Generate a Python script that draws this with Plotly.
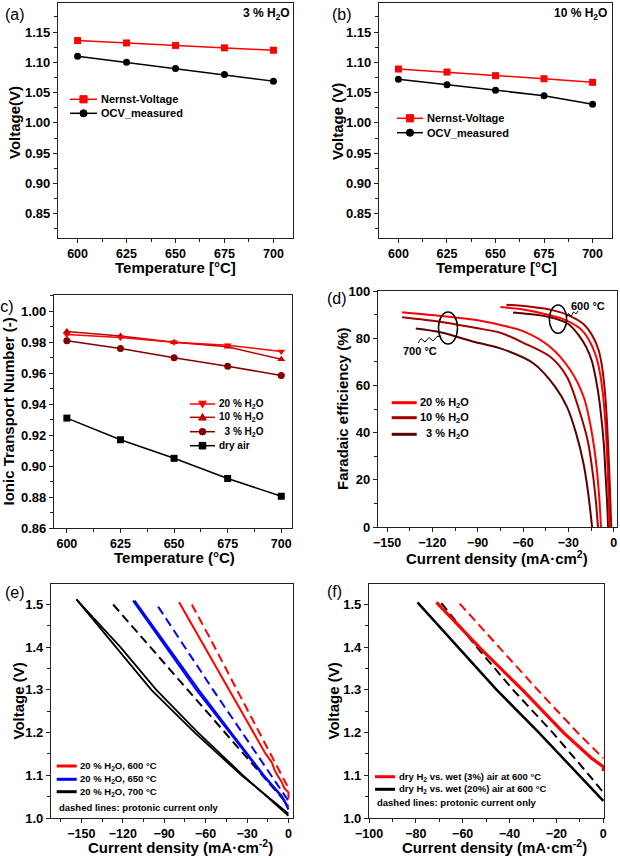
import plotly.graph_objects as go

W, H = 620, 858
FONT = "Liberation Sans, Arial, sans-serif"

# ---------------- data ----------------
temps = [600, 625, 650, 675, 700]
a_nernst = [1.136, 1.132, 1.128, 1.124, 1.120]
a_ocv = [1.110, 1.100, 1.090, 1.080, 1.069]
b_nernst = [1.089, 1.084, 1.078, 1.073, 1.067]
b_ocv = [1.072, 1.063, 1.054, 1.045, 1.031]

c_h2o20 = [0.985, 0.983, 0.980, 0.978, 0.974]
c_h2o10 = [0.987, 0.984, 0.980, 0.977, 0.969]
c_h2o3 = [0.981, 0.976, 0.970, 0.9645, 0.9585]
c_dry = [0.931, 0.917, 0.905, 0.892, 0.8805]

# (d) Faradaic efficiency vs current density
d700_20_i = [-140, -114, -92, -75, -60, -42, -28.7, -19.9, -16.6, -13, -11, -9.5, -8.4]
d700_20_fe = [91.0, 89.4, 87.8, 85.6, 83.0, 76.3, 66.5, 55.2, 47.0, 34.0, 23.5, 12.0, 0]
d700_10_i = [-140, -114, -92, -75, -58, -42, -31, -22.1, -17, -13.3, -11.5, -10.4]
d700_10_fe = [88.9, 86.9, 84.4, 82.3, 77.5, 72.1, 63.7, 48.0, 36.0, 20.0, 9.0, 0]
d700_3_i = [-131, -114, -92, -75, -53, -38.7, -31, -25, -20, -17, -14.3]
d700_3_fe = [84.1, 82.4, 78.4, 75.7, 69.3, 59.4, 51.0, 40.0, 27.0, 15.0, 0]
d600_20_i = [-75, -60, -42, -33, -22, -17, -12, -9, -6.6, -5, -4, -3.3, -2.7]
d600_20_fe = [93.2, 92.2, 89.7, 88.0, 84.0, 80.0, 73.0, 65.0, 53.0, 39.0, 25.0, 12.0, 0]
d600_10_i = [-71, -55, -40, -29.8, -20, -14.3, -10, -7.7, -5.5, -4.4, -3.0, -2.2, -1.6]
d600_10_fe = [94.2, 93.3, 91.8, 89.7, 86.0, 81.3, 75.0, 68.0, 55.0, 44.0, 25.0, 11.0, 0]
d600_3_i = [-66.6, -50, -38.6, -30, -23.2, -18, -14.3, -10.5, -8.8, -6.5, -5.5, -4.3, -3.7]
d600_3_fe = [90.9, 89.8, 88.3, 86.0, 81.3, 76.0, 70.0, 58.0, 50.0, 35.0, 23.5, 10.0, 0]

# (e) i-V curves, 20 % H2O
e600_i = [-79.2, -60.6, -43.0, -25.6, -16.5, -12, -10, -8, -5, -3, -1.5, 0, 0]
e600_v = [1.505, 1.40, 1.30, 1.20, 1.15, 1.13, 1.112, 1.10, 1.085, 1.07, 1.065, 1.06, 1.045]
e600p_i = [-70, -55, -37.3, -21, -5, 0]
e600p_v = [1.50, 1.41, 1.30, 1.20, 1.10, 1.07]
e650a_i = [-112.6, -89, -66.7, -42.5, -18.4, -5, 0]
e650a_v = [1.509, 1.40, 1.30, 1.20, 1.10, 1.05, 1.025]
e650b_i = [-111.5, -87.5, -65, -41.5, -17.8, -4.5, 0]
e650b_v = [1.509, 1.40, 1.30, 1.20, 1.10, 1.05, 1.02]
e650p_i = [-94.4, -75, -54.6, -33.5, -12.5, 0]
e650p_v = [1.495, 1.40, 1.30, 1.20, 1.10, 1.04]
e700a_i = [-153.6, -124.6, -99.3, -67.9, -34, 0]
e700a_v = [1.512, 1.40, 1.30, 1.20, 1.10, 1.01]
e700b_i = [-153.6, -121.7, -95.7, -65.5, -32.9, 0]
e700b_v = [1.512, 1.40, 1.30, 1.20, 1.10, 1.005]
e700p_i = [-127, -100, -73.5, -46.5, -19.5, 0]
e700p_v = [1.50, 1.40, 1.30, 1.20, 1.10, 1.03]

# (f) i-V curves at 600 °C
f3_i = [-71.2, -53, -34.5, -17, -5, 0, 0]
f3_v = [1.505, 1.40, 1.30, 1.20, 1.14, 1.12, 1.11]
f3p_i = [-61.3, -44.5, -28, -11, 0]
f3p_v = [1.502, 1.40, 1.30, 1.20, 1.14]
f20_i = [-79.3, -62, -45.5, -27.5, -10.5, -5, 0]
f20_v = [1.505, 1.40, 1.30, 1.20, 1.10, 1.07, 1.04]
f20p_i = [-69.1, -54, -38.5, -21.6, -6, 0]
f20p_v = [1.503, 1.40, 1.30, 1.20, 1.10, 1.06]

RED = "#ff0000"
C10 = "#c00000"
C3 = "#800000"
D10 = "#a00000"
D3 = "#5a0000"
BLUE = "#0000ff"

# ---------------- helpers ----------------
def px(x):
    return x / W

def py(y):
    return 1 - y / H

def axis(x0, x1, rng, dtick, tick0, fmt, minor, anchor, horiz=True):
    d = dict(
        domain=[px(x0), px(x1)] if horiz else [py(x1), py(x0)],
        range=rng, anchor=anchor, showline=True, mirror=True, automargin=False,
        linecolor="#222", linewidth=1.2, ticks="outside", ticklen=4,
        tickwidth=1.2, tickcolor="#222", tickmode="linear", dtick=dtick,
        tick0=tick0, showgrid=False, zeroline=False,
        tickfont=dict(family=FONT, size=12.5 if horiz else 13, color="black",
                      weight="bold"),
        minor=dict(ticks="outside", ticklen=2.5, dtick=minor, tickcolor="#222",
                   tickwidth=1, showgrid=False),
    )
    if fmt:
        d["tickformat"] = fmt
    return d

fig = go.Figure()

def add(x, y, ax, color, width=1.5, dash=None, marker=None, spline=False):
    line = dict(color=color, width=width)
    if dash:
        line["dash"] = dash
    if spline:
        line["shape"] = "spline"
        line["smoothing"] = 0.9
    kw = dict(x=x, y=y, xaxis="x" + ax, yaxis="y" + ax, line=line,
              showlegend=False, hoverinfo="skip")
    if marker:
        kw["mode"] = "lines+markers"
        kw["marker"] = dict(symbol=marker, size=7, color=color)
    else:
        kw["mode"] = "lines"
    fig.add_trace(go.Scatter(**kw))

# (a)
add(temps, a_nernst, "", RED, marker="square")
add(temps, a_ocv, "", "black", marker="circle")
# (b)
add(temps, b_nernst, "2", RED, marker="square")
add(temps, b_ocv, "2", "black", marker="circle")
# (c)
add(temps, c_dry, "3", "black", marker="square")
add(temps, c_h2o3, "3", C3, marker="circle")
add(temps, c_h2o10, "3", C10, marker="triangle-up")
add(temps, c_h2o20, "3", RED, marker="triangle-down")
# (d)
add(d700_3_i, d700_3_fe, "4", D3, 2, spline=True)
add(d700_10_i, d700_10_fe, "4", D10, 2, spline=True)
add(d700_20_i, d700_20_fe, "4", RED, 2, spline=True)
add(d600_3_i, d600_3_fe, "4", D3, 2, spline=True)
add(d600_20_i, d600_20_fe, "4", RED, 2, spline=True)
add(d600_10_i, d600_10_fe, "4", D10, 2, spline=True)
# (e)
DASH = "9px,5px"
add(e700p_i, e700p_v, "5", "black", 2, dash=DASH)
add(e700a_i, e700a_v, "5", "black", 1.8)
add(e700b_i, e700b_v, "5", "black", 1.8)
add(e650p_i, e650p_v, "5", BLUE, 2, dash=DASH)
add(e650a_i, e650a_v, "5", BLUE, 2)
add(e650b_i, e650b_v, "5", BLUE, 2)
add(e600p_i, e600p_v, "5", RED, 2, dash=DASH)
add(e600_i, e600_v, "5", RED, 2)
# (f)
add(f20p_i, f20p_v, "6", "black", 2, dash=DASH)
add(f20_i, f20_v, "6", "black", 2.5)
add(f3p_i, f3p_v, "6", RED, 2, dash=DASH)
add(f3_i, f3_v, "6", RED, 3.2)

layout = dict(
    width=W, height=H, autosize=False,
    margin=dict(l=0, r=0, t=0, b=0, pad=0, autoexpand=False),
    paper_bgcolor="white", plot_bgcolor="white",
    font=dict(family=FONT, color="black"),
    xaxis=axis(58, 293, [590, 710], 25, 600, None, 12.5, "y"),
    yaxis=axis(3, 238, [0.81, 1.198], 0.05, 0.85, ".2f", 0.025, "x", False),
    xaxis2=axis(379, 612, [590, 710], 25, 600, None, 12.5, "y2"),
    yaxis2=axis(3, 238, [0.81, 1.198], 0.05, 0.85, ".2f", 0.025, "x2", False),
    xaxis3=axis(54, 292, [594, 705], 25, 600, None, 12.5, "y3"),
    yaxis3=axis(295, 528, [0.86, 1.0105], 0.02, 0.86, ".2f", 0.01, "x3", False),
    xaxis4=axis(378, 617, [-156, 2.2], 30, -150, None, 15, "y4"),
    yaxis4=axis(291, 527, [0, 100], 20, 0, None, 10, "x4", False),
    xaxis5=axis(51, 293, [-172, 3.3], 30, -150, None, 15, "y5"),
    yaxis5=axis(584, 818, [1.0, 1.548], 0.1, 1.0, ".1f", 0.05, "x5", False),
    xaxis6=axis(369, 604, [-100, 0.3], 20, -100, None, 10, "y6"),
    yaxis6=axis(584, 818, [1.0, 1.548], 0.1, 1.0, ".1f", 0.05, "x6", False),
)
fig.update_layout(**layout)

annotations = []
shapes = []

def text(x, y, s, size=12, bold=True, xanchor="center", angle=0):
    annotations.append(dict(
        x=px(x), y=py(y), xref="paper", yref="paper", text=s, showarrow=False,
        xanchor=xanchor, yanchor="middle", textangle=angle,
        font=dict(family=FONT, size=size, color="black",
                  weight="bold" if bold else "normal")))

def hline(x0, x1, y, color, width, dash=None):
    ln = dict(color=color, width=width)
    if dash:
        ln["dash"] = dash
    shapes.append(dict(type="line", xref="paper", yref="paper",
                       x0=px(x0), x1=px(x1), y0=py(y), y1=py(y), line=ln))

def glyph(cx, cy, kind, color, s=3.6):
    base = dict(xref="paper", yref="paper", xsizemode="pixel", ysizemode="pixel",
                xanchor=px(cx), yanchor=py(cy), fillcolor=color,
                line=dict(color=color, width=1))
    if kind == "square":
        shapes.append(dict(type="rect", x0=-s, x1=s, y0=-s, y1=s, **base))
    elif kind == "circle":
        shapes.append(dict(type="circle", x0=-s, x1=s, y0=-s, y1=s, **base))
    elif kind == "up":
        shapes.append(dict(type="path", path=f"M {-s-0.5} {-s+0.5} L {s+0.5} {-s+0.5} L 0 {s+0.5} Z", **base))
    elif kind == "down":
        shapes.append(dict(type="path", path=f"M {-s-0.5} {s-0.5} L {s+0.5} {s-0.5} L 0 {-s-0.5} Z", **base))

def poly(pts, color="black", width=1):
    path = "M " + " L ".join(f"{px(a)} {py(b)}" for a, b in pts)
    shapes.append(dict(type="path", xref="paper", yref="paper", path=path,
                       line=dict(color=color, width=width)))

def ellipse(x0, x1, y0, y1):
    shapes.append(dict(type="circle", xref="paper", yref="paper",
                       x0=px(x0), x1=px(x1), y0=py(y1), y1=py(y0),
                       line=dict(color="black", width=1.5)))

H2O = "H<sub>2</sub>O"
NB = "\u00a0"

# panel letters
text(15, 14, "(a)", 16, False)
text(342, 14, "(b)", 16, False)
text(4, 306, "(c)", 16, False)
text(337, 298, "(d)", 16, False)
text(15, 592, "(e)", 16, False)
text(334, 591, "(f)", 16, False)

# axis titles
text(175, 267, "Temperature [°C]", 15)
text(15, 123, "Voltage(V)", 15, angle=-90)
text(496, 267, "Temperature [°C]", 15)
text(338, 122, "Voltage (V)", 15, angle=-90)
text(174, 557, "Temperature (°C)", 15)
text(8.5, 412, "Ionic Transport Number (-)", 15, angle=-90)
text(497, 557, "Current density (mA·cm<sup>2</sup>)", 15)
text(342, 409, "Faradaic efficiency (%)", 15, angle=-90)
text(180, 846, "Current density (mA·cm<sup>-2</sup>)", 15)
text(17.5, 701, "Voltage (V)", 15, angle=-90)
text(494, 846, "Current density (mA·cm<sup>-2</sup>)", 15)
text(332.5, 701, "Voltage (V)", 15, angle=-90)

# in-plot labels
text(266, 14, "3 % " + H2O, 12)
text(580, 14, "10 % " + H2O, 12)

# legend (a)
hline(70, 97, 99.3, RED, 1.5); glyph(83.5, 99.3, "square", RED)
text(99, 99.3, "Nernst-Voltage", 11, xanchor="left")
hline(70, 97, 113.3, "black", 1.5); glyph(83.5, 113.3, "circle", "black")
text(99, 113.3, "OCV_measured", 11, xanchor="left")
# legend (b)
hline(397, 423, 118.3, RED, 1.5); glyph(410, 118.3, "square", RED)
text(425, 118.3, "Nernst-Voltage", 11, xanchor="left")
hline(397, 423, 132.7, "black", 1.5); glyph(410, 132.7, "circle", "black")
text(425, 132.7, "OCV_measured", 11, xanchor="left")
# legend (c)
c_leg = [(404, RED, "down", "20 % " + H2O), (417.3, C10, "up", "10 % " + H2O),
         (431.7, C3, "circle", NB + NB + "3 % " + H2O), (445.7, "black", "square", "dry air")]
for yy, col, g, lab in c_leg:
    hline(190, 215, yy, col, 1.5); glyph(202.5, yy, g, col, 3.3)
    text(217, yy, lab, 10, xanchor="left")
# legend (d)
d_leg = [(402.7, RED, "20 % " + H2O), (417.7, D10, "10 % " + H2O), (434.3, D3, NB + NB + "3 % " + H2O)]
for yy, col, lab in d_leg:
    hline(391.7, 416.7, yy, col, 3)
    text(418, yy, lab, 11, xanchor="left")
# (d) ellipses and labels
ellipse(438.5, 457.5, 312, 344)
ellipse(549.3, 566.7, 305, 333.3)
poly([(418, 343), (421, 338.5), (425, 342), (429, 337.5), (433, 341), (437, 336.5), (441, 336)])
poly([(566, 318), (568.5, 313.5), (571, 316.5), (573.5, 312), (576, 314), (578, 311)])
text(420, 351, "700 °C", 11)
text(588, 306, "600 °C", 11)
# legend (e)
e_leg = [(766, RED, "20 % " + H2O + ", 600 °C"), (779.3, BLUE, "20 % " + H2O + ", 650 °C"),
         (791.7, "black", "20 % " + H2O + ", 700 °C")]
for yy, col, lab in e_leg:
    hline(56.7, 76.7, yy, col, 3)
    text(78.3, yy, lab, 9.5, xanchor="left")
text(57.3, 807.3, "dashed lines: protonic current only", 9.5, xanchor="left")
# legend (f)
f_leg = [(776.7, RED, "dry H<sub>2</sub> vs. wet (3%) air at 600 °C"),
         (789.3, "black", "dry H<sub>2</sub> vs. wet (20%) air at 600 °C")]
for yy, col, lab in f_leg:
    hline(375, 395, yy, col, 3)
    text(396.7, yy, lab, 9.5, xanchor="left")
text(375, 802.7, "dashed lines: protonic current only", 9.5, xanchor="left")

fig.update_layout(annotations=annotations, shapes=shapes)
# remove the default page margin so the 620x858 figure fills the window exactly
fig.write_html("out.html", config={"displayModeBar": False},
               post_script="document.body.style.margin='0';document.body.style.overflow='hidden';")
